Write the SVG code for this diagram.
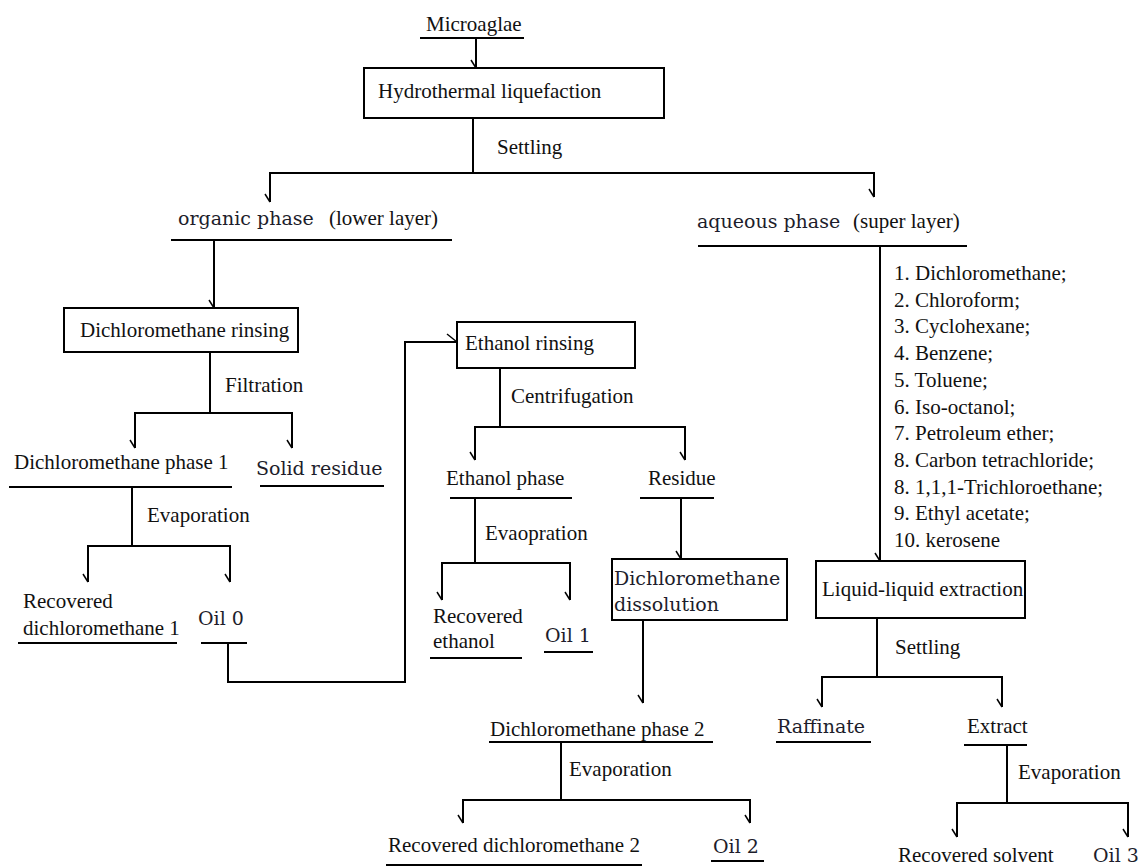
<svg xmlns="http://www.w3.org/2000/svg" width="1143" height="868" viewBox="0 0 1143 868">
<style>
.s{font-family:"Liberation Serif","Times New Roman",serif;font-size:21px;fill:#111}
.c{font-family:"DejaVu Serif","Liberation Serif",serif;font-size:19px;fill:#1d1d2b}
.u{stroke:#000;stroke-width:2;fill:none}
.b{stroke:#000;stroke-width:2;fill:#fff}
.k{stroke:#000;stroke-width:2;fill:none;marker-start:url(#tk);marker-end:url(#tk)}
.e{stroke:#000;stroke-width:2;fill:none;marker-end:url(#tk)}
</style>
<defs>
<marker id="tk" markerUnits="userSpaceOnUse" markerWidth="14" markerHeight="14" viewBox="-12 -12 14 14" refX="0" refY="0" orient="0" overflow="visible"><path d="M-5,-8 L0,0" stroke="#000" stroke-width="1.5" fill="none"/></marker>
<marker id="tkh" markerUnits="userSpaceOnUse" markerWidth="14" markerHeight="14" viewBox="-12 -12 14 14" refX="0" refY="0" orient="0" overflow="visible"><path d="M-10,-8 L0,0" stroke="#000" stroke-width="1.5" fill="none"/></marker>
</defs>
<rect width="1143" height="868" fill="#fff"/>

<g id="connectors">
<path class="e" d="M476,38 V68"/>
<path class="u" d="M473,118 V173"/>
<path class="k" d="M270,202 V173 H874 V197"/>
<path class="e" d="M214,240 V308"/>
<path class="u" d="M210,352 V413"/>
<path class="k" d="M135,448 V413 H292 V448"/>
<path class="u" d="M132,487 V546"/>
<path class="k" d="M88,582 V546 H230 V582"/>
<path class="u" d="M228,643 V682 H405 V342 H457" marker-end="url(#tkh)"/>
<path class="u" d="M500,368 V427"/>
<path class="k" d="M475,460 V427 H685 V460"/>
<path class="u" d="M475,498 V563"/>
<path class="k" d="M442,600 V563 H570 V600"/>
<path class="e" d="M681,498 V559"/>
<path class="e" d="M643,620 V703"/>
<path class="u" d="M561,741 V800"/>
<path class="k" d="M463,823 V800 H750 V823"/>
<path class="e" d="M880,246 V561"/>
<path class="u" d="M877,618 V677"/>
<path class="k" d="M822,707 V677 H1002 V707"/>
<path class="u" d="M1007,745 V803"/>
<path class="k" d="M957,837 V803 H1128 V837"/>
</g>

<g id="labels">
<text class="s" x="497" y="154">Settling</text>
<text class="s" x="225" y="392">Filtration</text>
<text class="s" x="147" y="522">Evaporation</text>
<text class="s" x="511" y="403">Centrifugation</text>
<text class="s" x="485" y="540">Evaopration</text>
<text class="s" x="569" y="776">Evaporation</text>
<text class="s" x="895" y="654">Settling</text>
<text class="s" x="1018" y="779">Evaporation</text>
</g>

<g id="microalgae">
<text class="s" x="426" y="31">Microaglae</text>
<line class="u" x1="420" y1="38" x2="524" y2="38"/>
</g>
<g id="htl">
<rect class="b" x="364" y="68" width="300" height="50"/>
<text class="s" x="378" y="98">Hydrothermal liquefaction</text>
</g>
<g id="organic">
<text class="c" x="178" y="225">organic phase</text>
<text class="s" x="329" y="225">(lower layer)</text>
<line class="u" x1="171" y1="240" x2="452" y2="240"/>
</g>
<g id="aqueous">
<text class="c" x="697" y="228">aqueous phase</text>
<text class="s" x="853" y="228">(super layer)</text>
<line class="u" x1="698" y1="246" x2="967" y2="246"/>
</g>
<g id="solvents">
<text class="s" x="894" y="280">1. Dichloromethane;<tspan x="894" dy="26.7">2. Chloroform;</tspan><tspan x="894" dy="26.7">3. Cyclohexane;</tspan><tspan x="894" dy="26.7">4. Benzene;</tspan><tspan x="894" dy="26.7">5. Toluene;</tspan><tspan x="894" dy="26.7">6. Iso-octanol;</tspan><tspan x="894" dy="26.7">7. Petroleum ether;</tspan><tspan x="894" dy="26.7">8. Carbon tetrachloride;</tspan><tspan x="894" dy="26.7">8. 1,1,1-Trichloroethane;</tspan><tspan x="894" dy="26.7">9. Ethyl acetate;</tspan><tspan x="894" dy="26.7">10. kerosene</tspan></text>
</g>
<g id="dcm-rinsing">
<rect class="b" x="64" y="308" width="234" height="44"/>
<text class="s" x="80" y="337">Dichloromethane rinsing</text>
</g>
<g id="dcm-phase1">
<text class="s" x="14" y="469">Dichloromethane phase 1</text>
<line class="u" x1="9" y1="487" x2="232" y2="487"/>
</g>
<g id="solid-residue">
<text class="c" x="256" y="475">Solid residue</text>
<line class="u" x1="260" y1="486" x2="384" y2="486"/>
</g>
<g id="rec-dcm1">
<text class="s" x="23" y="608">Recovered</text>
<text class="s" x="23" y="635">dichloromethane 1</text>
<line class="u" x1="18" y1="643" x2="177" y2="643"/>
</g>
<g id="oil0">
<text class="c" x="198" y="625">Oil 0</text>
<line class="u" x1="201" y1="643" x2="247" y2="643"/>
</g>
<g id="ethanol-rinsing">
<rect class="b" x="457" y="322" width="178" height="46"/>
<text class="s" x="465" y="350">Ethanol rinsing</text>
</g>
<g id="ethanol-phase">
<text class="s" x="446" y="485">Ethanol phase</text>
<line class="u" x1="450" y1="498" x2="572" y2="498"/>
</g>
<g id="residue">
<text class="s" x="648" y="485">Residue</text>
<line class="u" x1="640" y1="498" x2="714" y2="498"/>
</g>
<g id="rec-ethanol">
<text class="s" x="433" y="623">Recovered</text>
<text class="s" x="433" y="648">ethanol</text>
<line class="u" x1="430" y1="658" x2="522" y2="658"/>
</g>
<g id="oil1">
<text class="c" x="545" y="642">Oil 1</text>
<line class="u" x1="544" y1="652" x2="593" y2="652"/>
</g>
<g id="dcm-dissolution">
<rect class="b" x="612" y="559" width="175" height="61"/>
<text class="c" x="614" y="585">Dichloromethane</text>
<text class="c" x="614" y="611">dissolution</text>
</g>
<g id="dcm-phase2">
<text class="s" x="490" y="736">Dichloromethane phase 2</text>
<line class="u" x1="489" y1="742" x2="713" y2="742"/>
</g>
<g id="rec-dcm2">
<text class="s" x="388" y="852">Recovered dichloromethane 2</text>
<line class="u" x1="386" y1="865" x2="642" y2="865"/>
</g>
<g id="oil2">
<text class="c" x="713" y="853">Oil 2</text>
<line class="u" x1="711" y1="861" x2="764" y2="861"/>
</g>
<g id="lle">
<rect class="b" x="816" y="561" width="209" height="57"/>
<text class="s" x="822" y="596">Liquid-liquid extraction</text>
</g>
<g id="raffinate">
<text class="c" x="777" y="733">Raffinate</text>
<line class="u" x1="776" y1="742" x2="871" y2="742"/>
</g>
<g id="extract">
<text class="s" x="967" y="733">Extract</text>
<line class="u" x1="964" y1="745" x2="1027" y2="745"/>
</g>
<g id="rec-solvent">
<text class="s" x="898" y="862">Recovered solvent</text>
</g>
<g id="oil3">
<text class="c" x="1093" y="862">Oil 3</text>
</g>
</svg>
